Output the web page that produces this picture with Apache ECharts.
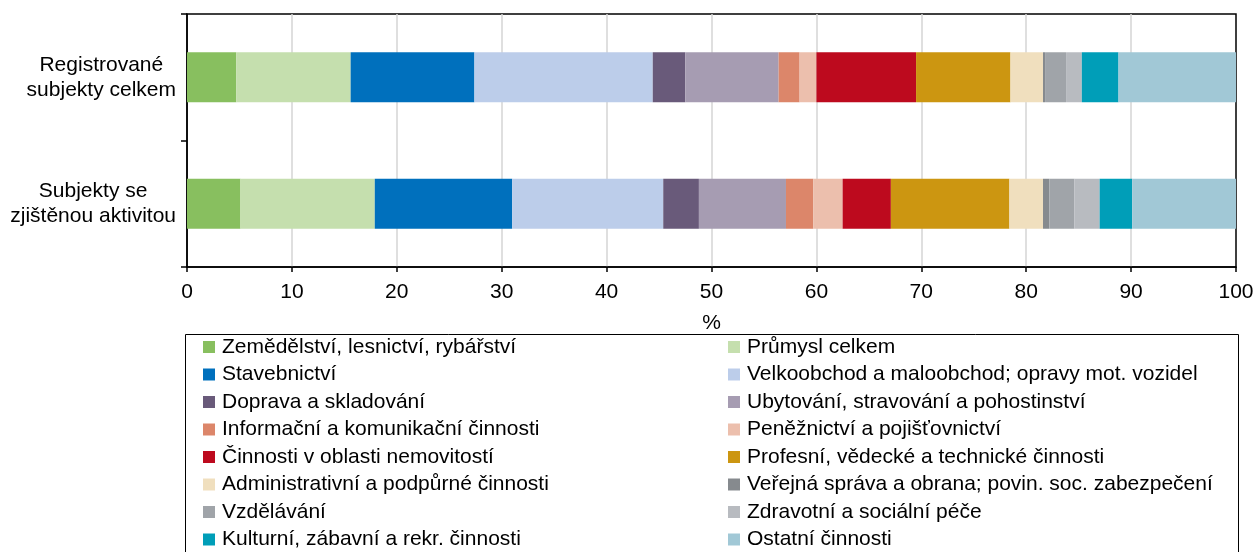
<!DOCTYPE html>
<html>
<head>
<meta charset="utf-8">
<script src="https://cdn.jsdelivr.net/npm/echarts@6/dist/echarts.min.js"></script>
<style>
  html, body { margin: 0; padding: 0; background: #fff; }
  #chart { width: 1254px; height: 552px; }
</style>
</head>
<body>
<div id="chart"></div>
<script>
const categories = ["Registrované\nsubjekty celkem", "Subjekty se\nzjištěnou aktivitou"];

const sectors = [
  "Zemědělství, lesnictví, rybářství",
  "Průmysl celkem",
  "Stavebnictví",
  "Velkoobchod a maloobchod; opravy mot. vozidel",
  "Doprava a skladování",
  "Ubytování, stravování a pohostinství",
  "Informační a komunikační činnosti",
  "Peněžnictví a pojišťovnictví",
  "Činnosti v oblasti nemovitostí",
  "Profesní, vědecké a technické činnosti",
  "Administrativní a podpůrné činnosti",
  "Veřejná správa a obrana; povin. soc. zabezpečení",
  "Vzdělávání",
  "Zdravotní a sociální péče",
  "Kulturní, zábavní a rekr. činnosti",
  "Ostatní činnosti"
];

// podíly v % – registrované subjekty celkem
const registered = [4.7, 10.9, 11.8, 17.0, 3.1, 8.9, 2.0, 1.6, 9.5, 9.0, 3.1, 0.2, 2.0, 1.5, 3.5, 11.2];
// podíly v % – subjekty se zjištěnou aktivitou
const active = [5.1, 12.8, 13.1, 14.4, 3.4, 8.3, 2.6, 2.8, 4.6, 11.3, 3.2, 0.6, 2.4, 2.4, 3.1, 9.9];

const xTicks = [0, 10, 20, 30, 40, 50, 60, 70, 80, 90, 100];

const colors = [
  "#88bf5f", "#c5dfae", "#0070bd", "#bccdea", "#695a7a", "#a69cb2",
  "#dc866a", "#ecbfad", "#bd0a1e", "#cc9611", "#f0dfbe", "#868a8e",
  "#a0a4a9", "#b8bbc0", "#009eb8", "#a1c8d6"
];

const FONT = "Liberation Sans, Arial, sans-serif";
const FS = 21;

const chart = echarts.init(document.getElementById("chart"));

const series = sectors.map((name, i) => ({
  name: name,
  type: "bar",
  stack: "total",
  barWidth: 50,
  itemStyle: { color: colors[i] },
  data: [registered[i], active[i]]
}));

const legendBase = {
  orient: "vertical",
  top: 336.5,
  height: 400,
  padding: 0,
  icon: "rect",
  itemWidth: 12,
  itemHeight: 12,
  itemGap: 6.5,
  selectedMode: false,
  textStyle: { fontFamily: FONT, fontSize: FS, color: "#000", lineHeight: 21, padding: [0, 0, 0, 2] }
};

const option = {
  animation: false,
  color: colors,
  textStyle: { fontFamily: FONT },
  grid: {
    left: 187,
    right: 18,
    top: 14,
    bottom: 285,
    outerBoundsMode: "none",
    containLabel: false,
    show: true,
    borderColor: "#000",
    borderWidth: 1.5
  },
  xAxis: {
    type: "value",
    min: xTicks[0],
    max: xTicks[xTicks.length - 1],
    interval: 10,
    name: "%",
    nameLocation: "middle",
    nameGap: 46,
    nameTextStyle: { fontFamily: FONT, fontSize: FS, color: "#000" },
    axisLine: { show: true, lineStyle: { color: "#000", width: 1.5 } },
    axisTick: { show: true, length: 5, lineStyle: { color: "#000", width: 1.5 } },
    axisLabel: { fontFamily: FONT, fontSize: FS, color: "#000", margin: 15 },
    splitLine: { show: true, showMaxLine: false, showMinLine: false, lineStyle: { color: "#d4d4d4", width: 1.5 } }
  },
  yAxis: {
    type: "category",
    data: categories,
    inverse: true,
    axisLine: { show: true, lineStyle: { color: "#000", width: 1.5 } },
    axisTick: { show: true, length: 6, lineStyle: { color: "#000", width: 1.5 } },
    axisLabel: {
      margin: 11,
      formatter: (v) => v.split("\n").map((l) => "{c|" + l + "}").join("\n"),
      rich: {
        c: { align: "center", fontFamily: FONT, fontSize: FS, color: "#000", lineHeight: 25 }
      }
    }
  },
  legend: [
    Object.assign({}, legendBase, { left: 203, data: sectors.filter((s, i) => i % 2 === 0) }),
    Object.assign({}, legendBase, { left: 728, data: sectors.filter((s, i) => i % 2 === 1) })
  ],
  graphic: [
    {
      type: "rect",
      left: 183,
      top: 332,
      shape: { width: 1053, height: 240 },
      style: { fill: "none", stroke: "#000", lineWidth: 1 },
      silent: true
    }
  ],
  series: series
};

chart.setOption(option);
</script>
</body>
</html>
